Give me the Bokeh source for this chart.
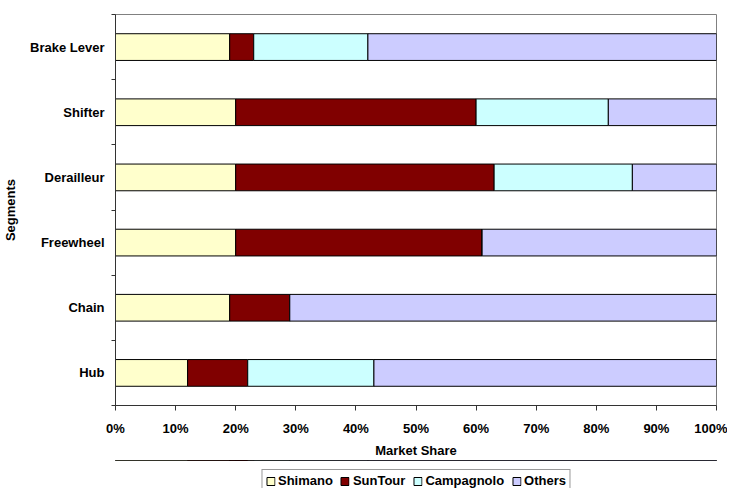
from bokeh.plotting import figure
from bokeh.layouts import column
from bokeh.models import ColumnDataSource, FixedTicker, NumeralTickFormatter, Legend, LegendItem, Range1d
from bokeh.embed import file_html
from bokeh.resources import INLINE

# Data (bottom to top)
segments = ["Hub", "Chain", "Freewheel", "Derailleur", "Shifter", "Brake Lever"]
shimano = [12, 19, 20, 20, 20, 19]
suntour = [10, 10, 41, 43, 40, 4]
campagnolo = [21, 0, 0, 23, 22, 19]
others = [57, 71, 39, 14, 18, 58]
brands = ["Shimano", "SunTour", "Campagnolo", "Others"]
colors = ["#FFFFCC", "#800000", "#CCFFFF", "#CCCCFF"]
x_ticks = [0, 0.1, 0.2, 0.3, 0.4, 0.5, 0.6, 0.7, 0.8, 0.9, 1.0]

centers = [2 * i + 1 for i in range(len(segments))]
bounds = [2 * i for i in range(len(segments) + 1)]

src = ColumnDataSource(dict(
    y=centers,
    Shimano=[v / 100 for v in shimano],
    SunTour=[v / 100 for v in suntour],
    Campagnolo=[v / 100 for v in campagnolo],
    Others=[v / 100 for v in others],
))

p = figure(output_backend="svg", toolbar_location=None,
           frame_width=601, frame_height=391,
           x_range=Range1d(0, 1), y_range=Range1d(0, 2 * len(segments)))
p.min_border_left = 105
p.min_border_right = 11
p.min_border_top = 14
p.min_border_bottom = 52

p.hbar_stack(brands, y="y", height=0.82, color=colors, source=src,
             line_color="black", line_width=1)

p.xgrid.visible = False
p.ygrid.visible = False
p.outline_line_color = "#808080"
p.outline_line_width = 1
p.background_fill_color = "white"
p.border_fill_color = "white"

font = "Liberation Sans"

# X axis
xa = p.xaxis[0]
xa.ticker = FixedTicker(ticks=x_ticks)
xa.formatter = NumeralTickFormatter(format="0%")
xa.axis_label = "Market Share"
xa.major_tick_out = 5
xa.major_tick_in = 0
xa.minor_tick_line_color = None
xa.major_label_standoff = 10
xa.axis_label_standoff = 4

# Y axis
ya = p.yaxis[0]
ya.ticker = FixedTicker(ticks=centers, minor_ticks=bounds)
ya.major_label_overrides = {c: s for c, s in zip(centers, segments)}
ya.major_tick_out = 0
ya.major_tick_in = 0
ya.minor_tick_out = 4
ya.minor_tick_in = 0
ya.major_label_standoff = 7
ya.axis_label = "Segments"
ya.axis_label_standoff = 9

for ax in (xa, ya):
    ax.axis_line_color = "#333333"
    ax.major_tick_line_color = "#333333" if ax is xa else None
    ax.minor_tick_line_color = "#333333" if ax is ya else None
    ax.major_label_text_font = font
    ax.major_label_text_font_style = "bold"
    ax.major_label_text_font_size = "13px"
    ax.major_label_text_color = "black"
    ax.axis_label_text_font = font
    ax.axis_label_text_font_style = "bold"
    ax.axis_label_text_font_size = "13px"
    ax.axis_label_text_color = "black"

# Legend strip below the chart (its bars lie outside its visible range)
leg = figure(output_backend="svg", toolbar_location=None,
             frame_width=601, frame_height=28,
             x_range=Range1d(0, 1), y_range=Range1d(-1, 0),
             x_axis_type=None, y_axis_type=None)
leg.min_border_left = 105
leg.min_border_right = 11
leg.min_border_top = 0
leg.min_border_bottom = 0
leg.outline_line_color = None
leg.xgrid.visible = False
leg.ygrid.visible = False

leg_renderers = leg.hbar_stack(brands, y="y", height=0.82, color=colors, source=src,
                               line_color="black", line_width=1)
items = [LegendItem(label=b, renderers=[r]) for b, r in zip(brands, leg_renderers)]
legend = Legend(items=items, orientation="horizontal", location="top_center")
legend.label_text_font = font
legend.label_text_font_style = "bold"
legend.label_text_font_size = "13px"
legend.label_text_color = "black"
legend.glyph_width = 10
legend.glyph_height = 10
legend.label_standoff = 3
legend.spacing = 7
legend.padding = 3
legend.margin = 9
legend.border_line_color = "#333333"
legend.border_line_width = 1
legend.background_fill_alpha = 1
legend.label_height = 13
leg.add_layout(legend, "center")

layout = column(p, leg)
open("out.html", "w").write(file_html(layout, INLINE))
